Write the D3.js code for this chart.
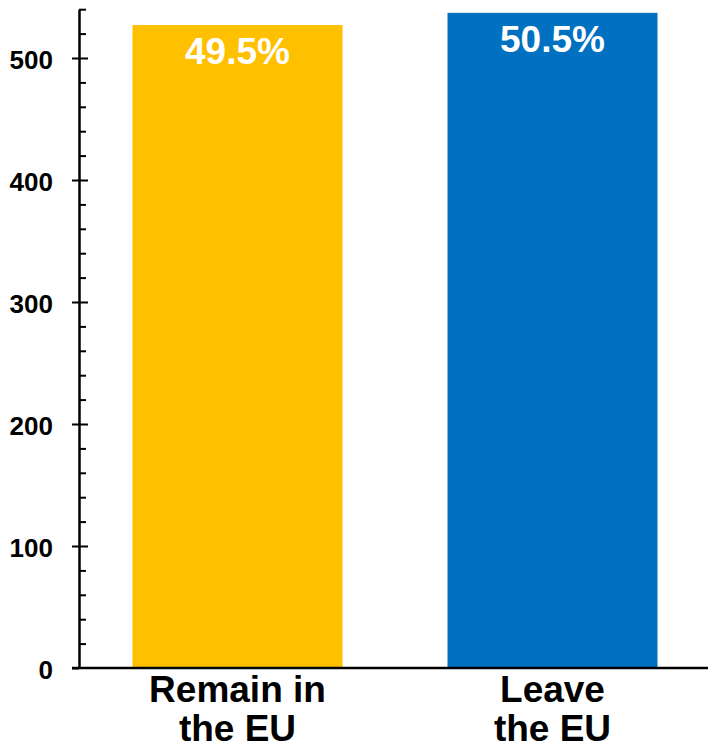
<!DOCTYPE html>
<html>
<head>
<meta charset="utf-8">
<script src="https://cdn.jsdelivr.net/npm/d3@7"></script>
<style>
  body { margin: 0; background: #fff; }
  svg { display: block; font-family: "Liberation Sans", Arial, sans-serif; }
</style>
</head>
<body>
<svg id="chart" width="708" height="749"></svg>
<script>
// data
var categories = ["Remain in the EU", "Leave the EU"];
var label_lines = [["Remain in", "the EU"], ["Leave", "the EU"]];
var votes = [527, 537];
var shares = ["49.5%", "50.5%"];
var bar_colors = ["#FFC000", "#0070C0"];
var major_ticks = [0, 100, 200, 300, 400, 500];

var svg = d3.select("#chart");
var x0 = 80, x1 = 710;
var base = 668;

var y = d3.scaleLinear()
    .domain([0, 540])
    .range([base, base - 540 * 1.22]);

var x = d3.scaleBand()
    .domain(categories)
    .range([x0, x1])
    .paddingInner(1 / 3)
    .paddingOuter(1 / 6);

// bars
svg.selectAll("rect.bar").data(categories)
    .enter().append("rect")
    .attr("class", "bar")
    .attr("x", d => x(d))
    .attr("width", x.bandwidth())
    .attr("y", (d, i) => y(votes[i]))
    .attr("height", (d, i) => base - y(votes[i]))
    .attr("fill", (d, i) => bar_colors[i]);

// share labels inside the bars
svg.selectAll("text.share").data(categories)
    .enter().append("text")
    .attr("class", "share")
    .attr("x", d => x(d) + x.bandwidth() / 2)
    .attr("y", (d, i) => y(votes[i]) + 39)
    .attr("text-anchor", "middle")
    .attr("fill", "#fff")
    .attr("font-weight", "bold")
    .attr("font-size", "37px")
    .text((d, i) => shares[i]);

// minor ticks, right side of the axis
var minor = svg.append("g")
    .attr("transform", `translate(${x0 - 1},0)`)
    .call(d3.axisRight(y).tickValues(d3.range(20, 541, 20)).tickSize(7).tickFormat(""));
minor.select(".domain").remove();
minor.selectAll("line")
    .attr("x2", d => d % 100 === 0 ? 9 : 7)
    .attr("stroke", "#000")
    .attr("stroke-width", 2);

// major ticks + labels
var major = svg.append("g")
    .attr("transform", `translate(${x0 - 1},0)`)
    .call(d3.axisLeft(y).tickValues(major_ticks).tickSizeInner(7).tickSizeOuter(0).tickPadding(19));
major.select(".domain")
    .attr("stroke", "#000")
    .attr("stroke-width", 2.5);
major.selectAll("line")
    .attr("stroke", "#000")
    .attr("stroke-width", 2);
major.selectAll("text")
    .attr("font-size", "26px")
    .attr("font-weight", "bold")
    .attr("fill", "#000")
    .attr("font-family", "Liberation Sans, Arial, sans-serif")
    .attr("dy", "0.42em");

// baseline
svg.append("line")
    .attr("x1", x0 - 8).attr("x2", 708)
    .attr("y1", base).attr("y2", base)
    .attr("stroke", "#000")
    .attr("stroke-width", 2.5);

// category labels
var cats = svg.selectAll("text.cat").data(categories)
    .enter().append("text")
    .attr("class", "cat")
    .attr("text-anchor", "middle")
    .attr("font-weight", "bold")
    .attr("font-size", "37px")
    .attr("fill", "#000");
cats.each(function(d, i) {
    var t = d3.select(this);
    label_lines[i].forEach((line, j) => {
        t.append("tspan")
            .attr("x", x(d) + x.bandwidth() / 2)
            .attr("y", 702 + j * 39)
            .text(line);
    });
});
</script>
</body>
</html>
